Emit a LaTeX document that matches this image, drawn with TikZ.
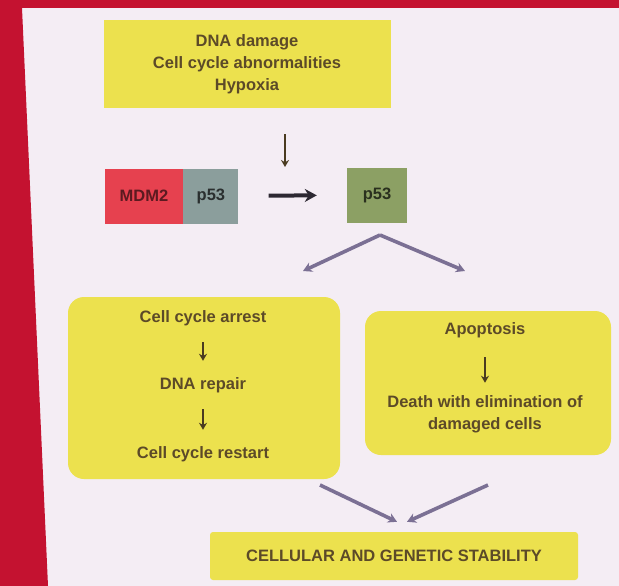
\documentclass[tikz,border=0pt]{standalone}
\usepackage{fontspec}
\setmainfont{Liberation Sans}
\usetikzlibrary{arrows.meta,positioning,calc}

\definecolor{bgpage}{HTML}{F4EDF4}
\definecolor{rim}{HTML}{C41230}
\definecolor{yel}{HTML}{ECE14E}
\definecolor{mdmred}{HTML}{E6414F}
\definecolor{pteal}{HTML}{8B9E9C}
\definecolor{pgreen}{HTML}{8CA064}
\definecolor{ink}{HTML}{5C4A28}
\definecolor{darkarr}{HTML}{2C2832}
\definecolor{lineviolet}{HTML}{7B7094}

\begin{document}
\begin{tikzpicture}[x=1pt,y=-1pt,font=\bfseries\fontsize{16.5}{22}\selectfont,
  box/.style={fill=yel,text=ink,align=center,inner sep=0pt},
  rbox/.style={box,rounded corners=16pt},
  pbox/.style={minimum height=55pt,inner sep=0pt},
  txt/.style={text=ink,align=center},
  arr/.style={-{Stealth[length=12pt,width=13pt]},line width=4pt,draw=darkarr},
  sarr/.style={-{Stealth[length=7pt,width=8pt]},line width=2.2pt,draw=ink!80!black},
  varr/.style={-{Stealth[length=9pt,width=10pt]},line width=3.6pt,draw=lineviolet}]
\useasboundingbox (0,0) rectangle (619,586);
% page and red rim of the photo
\fill[bgpage] (0,0) rectangle (619,586);
\fill[rim] (0,0) -- (619,0) -- (619,8) -- (22,8) -- (48,586) -- (0,586) -- cycle;

% causes
\node[box,minimum width=287pt,minimum height=88pt] (bxCause) at (247,64)
  {DNA damage\\Cell cycle abnormalities\\Hypoxia};
\coordinate (cDropA) at (285,134);
\coordinate (cDropB) at (285,167);
\draw[sarr] (cDropA) -- (cDropB);

% MDM2-p53 complex and free p53
\node[pbox,fill=mdmred,text=mdmred!40!black,minimum width=78pt] (bxMdm) at (144,196) {MDM2};
\node[pbox,fill=pteal,text=pteal!30!black,minimum width=55pt,right=0pt of bxMdm] (bxPfs) {p53};
\node[pbox,fill=pgreen,text=pgreen!30!black,minimum width=60pt] (bxPf) at (377,195) {p53};
\draw[arr,shorten <=30pt,shorten >=30pt] (bxPfs) -- (bxPf);

\coordinate (cFork) at (380,235);
\coordinate (cForkL) at (303,271);
\coordinate (cForkR) at (465,271);
\draw[varr] (cFork) -- (cForkL);
\draw[varr] (cFork) -- (cForkR);

% arrest branch
\node[rbox,minimum width=272pt,minimum height=182pt] (bxArrest) at (204,388) {};
\node[txt] (tArrest) at (203,318) {Cell cycle arrest};
\node[txt] (tRepair) at (203,385) {DNA repair};
\node[txt] (tRestart) at (203,454) {Cell cycle restart};
\draw[sarr,shorten <=13pt,shorten >=13pt] (tArrest) -- (tRepair);
\draw[sarr,shorten <=13pt,shorten >=13pt] (tRepair) -- (tRestart);

% apoptosis branch
\node[rbox,minimum width=246pt,minimum height=144pt] (bxApop) at (488,383) {};
\node[txt] (tApop) at (485,330) {Apoptosis};
\node[txt] (tDeath) at (485,414) {Death with elimination of\\damaged cells};
\draw[sarr,shorten <=16pt,shorten >=9pt] (tApop) -- (tDeath);

% outcome
\node[box,minimum width=368pt,minimum height=48pt,rounded corners=3pt] (bxStab) at (394,556)
  {CELLULAR AND GENETIC STABILITY};
\coordinate (cJoinL) at (320,485);
\coordinate (cJoinR) at (488,485);
\draw[varr] (cJoinL) -- ($(bxStab.north)+(3,-10)$);
\draw[varr] (cJoinR) -- ($(bxStab.north)+(13,-10)$);
\end{tikzpicture}
\end{document}
